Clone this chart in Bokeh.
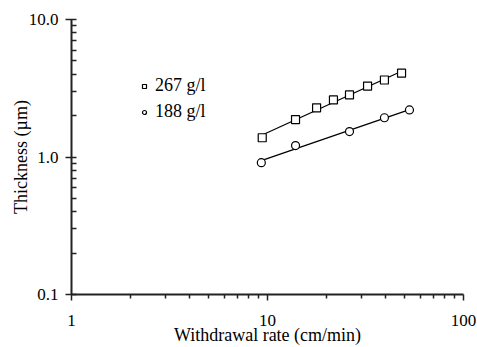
import numpy as np
from bokeh.plotting import figure
from bokeh.models import FixedTicker, Legend, LegendItem
from bokeh.embed import file_html
from bokeh.resources import INLINE

# Data
rate_267 = [9.4, 13.9, 17.8, 21.7, 26.2, 32.4, 39.5, 48.3]
thick_267 = [1.38, 1.87, 2.28, 2.60, 2.83, 3.28, 3.63, 4.07]
rate_188 = [9.3, 13.9, 26.2, 39.5, 53.0]
thick_188 = [0.91, 1.21, 1.53, 1.93, 2.20]

x_ticks = [1, 10, 100]
x_tick_labels = ["1", "10", "100"]
y_ticks = [0.1, 1, 10]
y_tick_labels = ["0.1", "1.0", "10.0"]

FONT = "Liberation Serif"

p = figure(width=477, height=347, x_axis_type="log", y_axis_type="log",
           x_range=(1, 100), y_range=(0.1, 10),
           output_backend="svg", toolbar_location=None,
           min_border_left=71, min_border_right=14, min_border_top=19, min_border_bottom=51)
p.outline_line_color = None
p.grid.visible = False
p.background_fill_color = "white"
p.border_fill_color = "white"


def fit_line(xs, ys):
    lx, ly = np.log10(xs), np.log10(ys)
    k, b = np.polyfit(lx, ly, 1)
    xx = np.array([min(xs), max(xs)])
    return xx, 10 ** (b + k * np.log10(xx))

fx1, fy1 = fit_line(rate_267, thick_267)
fx2, fy2 = fit_line(rate_188, thick_188)
p.line(fx1, fy1, line_color="black", line_width=1.3)
p.line(fx2, fy2, line_color="black", line_width=1.3)

r1 = p.scatter(rate_267, thick_267, marker="square", size=8, fill_color="white",
               line_color="black", line_width=1.2)
r2 = p.scatter(rate_188, thick_188, marker="circle", size=8, fill_color="white",
               line_color="black", line_width=1.2)

legend = Legend(items=[LegendItem(label="267 g/l", renderers=[r1]),
                       LegendItem(label="188 g/l", renderers=[r2])],
                location=(68, 172), border_line_color=None, background_fill_alpha=0,
                glyph_width=10, glyph_height=10, label_standoff=6, spacing=5, padding=0,
                label_text_font=FONT, label_text_font_size="18px", label_text_color="black")
p.add_layout(legend)

minor_x = [v * d for d in (1, 10) for v in range(2, 10)]
minor_y = [v * d for d in (0.1, 1) for v in range(2, 10)]
p.xaxis.ticker = FixedTicker(ticks=x_ticks, minor_ticks=minor_x)
p.yaxis.ticker = FixedTicker(ticks=y_ticks, minor_ticks=minor_y)
p.xaxis.major_label_overrides = {t: l for t, l in zip(x_ticks, x_tick_labels)}
p.yaxis.major_label_overrides = {t: l for t, l in zip(y_ticks, y_tick_labels)}

p.xaxis.axis_label = "Withdrawal rate (cm/min)"
p.yaxis.axis_label = "Thickness (µm)"

for ax in p.xaxis + p.yaxis:
    ax.axis_line_color = "#222222"
    ax.axis_line_width = 2
    ax.major_tick_line_color = "#222222"
    ax.minor_tick_line_color = "#222222"
    ax.major_tick_line_width = 1.5
    ax.minor_tick_line_width = 1.5
    ax.major_label_text_font = FONT
    ax.major_label_text_font_size = "17px"
    ax.major_label_text_color = "black"
    ax.axis_label_text_font = FONT
    ax.axis_label_text_font_style = "normal"
    ax.axis_label_text_color = "black"

xa = p.xaxis[0]
xa.axis_label_text_font_size = "18px"
xa.major_tick_out = 6
xa.major_tick_in = 0
xa.minor_tick_out = 4
xa.minor_tick_in = 0
xa.major_label_standoff = 14
xa.axis_label_standoff = -4

ya = p.yaxis[0]
ya.axis_label_text_font_size = "18px"
ya.major_tick_out = 6
ya.major_tick_in = 5
ya.minor_tick_out = 0
ya.minor_tick_in = 5
ya.major_label_standoff = 7
ya.axis_label_standoff = -5

open("out.html", "w").write(file_html(p, INLINE))
